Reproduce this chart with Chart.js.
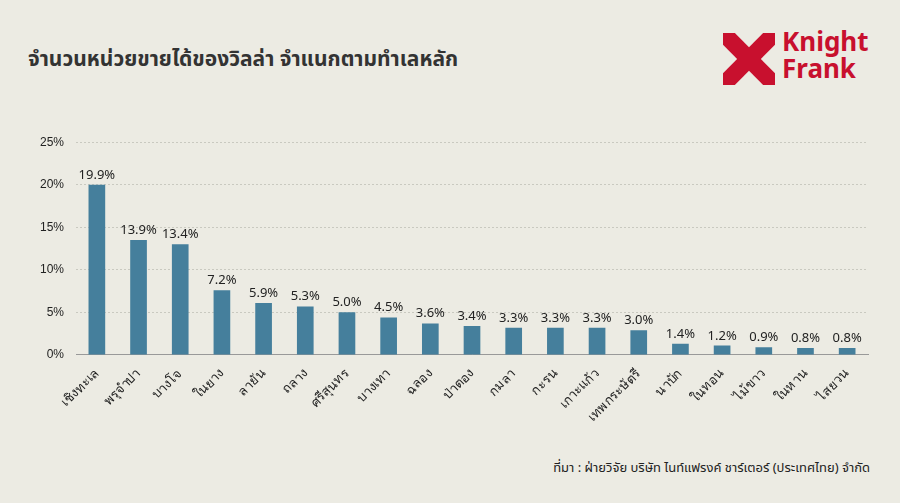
<!DOCTYPE html>
<html><head><meta charset="utf-8">
<script src="https://cdn.jsdelivr.net/npm/chart.js@4"></script>
<style>
body{margin:0;background:#ecebe3;font-family:"Noto Sans","Noto Sans Thai",sans-serif;}
#wrap{position:relative;width:900px;height:503px;}
h1{position:absolute;left:28px;top:44px;margin:0;font-size:21px;font-weight:700;color:#333;}
#src{position:absolute;right:30px;top:458px;font-size:13px;color:#222;}
#logo{position:absolute;left:723px;top:33px;width:52px;height:52px;background:#c8102e;overflow:hidden;}
#logo div{position:absolute;width:20px;height:20px;background:#ecebe3;transform:rotate(45deg);}
#logotxt{position:absolute;left:782px;top:28px;font-size:26px;line-height:27px;font-weight:700;color:#c8102e;}
#c{position:absolute;left:20px;top:123px;}
</style></head><body>
<div id="wrap">
<h1>จำนวนหน่วยขายได้ของวิลล่า จำแนกตามทำเลหลัก</h1>
<div id="logo"><div style="left:-10px;top:16px"></div><div style="left:42px;top:16px"></div><div style="left:16px;top:-10px"></div><div style="left:16px;top:42px"></div></div><div id="logotxt">Knight<br>Frank</div>
<canvas id="c" width="860" height="305"></canvas>
<div id="src">ที่มา : ฝ่ายวิจัย บริษัท ไนท์แฟรงค์ ชาร์เตอร์ (ประเทศไทย) จำกัด</div>
</div>
<script>
const categories = ['เชิงทะเล','พรุจำปา','บางโจ','ในยาง','ลายัน','ถลาง','ศรีสุนทร','บางเทา','ฉลอง','ป่าตอง','กมลา','กะรน','เกาะแก้ว','เทพกระษัตรี','นาบัก','ในทอน','ไม้ขาว','ในหาน','ไสยวน'];
const barValues = [20.0,13.5,13.0,7.6,6.1,5.7,5.0,4.4,3.7,3.4,3.2,3.2,3.2,2.9,1.3,1.1,0.9,0.8,0.8];
const valueLabels = ['19.9%','13.9%','13.4%','7.2%','5.9%','5.3%','5.0%','4.5%','3.6%','3.4%','3.3%','3.3%','3.3%','3.0%','1.4%','1.2%','0.9%','0.8%','0.8%'];
const yTicks = [0,5,10,15,20,25];

const labelPlugin = {
  id: 'vals',
  afterDatasetsDraw(chart) {
    const ctx = chart.ctx;
    ctx.save();
    ctx.font = '13px "Noto Sans", sans-serif';
    ctx.fillStyle = '#222';
    ctx.textAlign = 'center';
    chart.getDatasetMeta(0).data.forEach((bar, i) => {
      ctx.fillText(valueLabels[i], bar.x, bar.y - 6);
    });
    ctx.restore();
  }
};

new Chart(document.getElementById('c'), {
  type: 'bar',
  data: { labels: categories, datasets: [{ data: barValues, backgroundColor: '#457f9c', categoryPercentage: 0.8, barPercentage: 0.5 }] },
  options: {
    responsive: false, animation: false,
    layout: { padding: { left: 8, right: 12, top: 12 } },
    plugins: { legend: { display: false }, tooltip: { enabled: false } },
    scales: {
      y: {
        min: 0, max: 25,
        afterBuildTicks: s => { s.ticks = yTicks.map(v => ({ value: v })); },
        ticks: { callback: v => v + '%', color: '#222', font: { size: 12 }, padding: 12 },
        grid: { color: '#c9c9c0', drawTicks: false },
        border: { display: false, dash: [2,2] }
      },
      x: {
        grid: { display: false },
        border: { color: '#999' },
        ticks: { color: '#222', font: { size: 13 }, maxRotation: 45, minRotation: 45 }
      }
    }
  },
  plugins: [labelPlugin]
});
</script>
</body></html>
